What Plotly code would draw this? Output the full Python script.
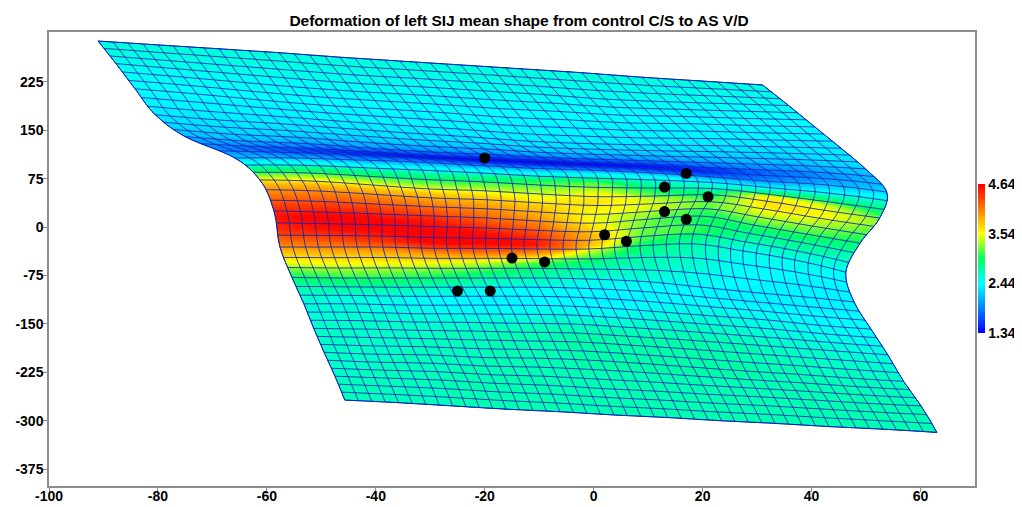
import plotly.graph_objects as go

# Grid node indices
a_nodes = [0, 4, 8, 12, 16, 20, 24, 28, 32, 36, 40, 44]
b_nodes = [0, 3, 6, 9, 12, 15, 18, 21, 24, 27, 30, 33, 36, 39, 42]

# Deformed grid node positions (each row: left to right)
x_r0 = [-91.0, -80.0, -68.8, -57.8, -46.6, -35.6, -24.4, -13.4, -2.2, 8.8, 20.0, 31.0]
y_r0 = [288, 282, 276, 270, 263, 257, 251, 245, 239, 232, 226, 220]
x_r3 = [-87.7, -76.5, -65.3, -53.9, -42.7, -31.5, -20.3, -9.1, 2.2, 13.4, 24.6, 35.8]
y_r3 = [253, 245, 237, 229, 222, 217, 211, 205, 198, 194, 191, 188]
x_r6 = [-84.2, -72.8, -61.5, -50.3, -38.9, -27.5, -16.1, -4.7, 6.6, 17.8, 29.2, 40.6]
y_r6 = [214, 206, 197, 189, 183, 177, 170, 166, 161, 160, 157, 155]
x_r9 = [-80.5, -69.2, -57.6, -46.2, -34.7, -23.3, -11.9, -0.3, 11.0, 22.4, 34.0, 45.4]
y_r9 = [174, 166, 160, 153, 146, 140, 133, 129, 127, 126, 124, 122]
x_r12 = [-75.0, -63.7, -52.3, -40.9, -29.5, -18.1, -6.8, 4.6, 15.8, 27.2, 38.6, 49.9]
y_r12 = [140, 133, 129, 122, 116, 112, 107, 104, 101, 98, 95, 90]
x_r15 = [-65.9, -55.0, -44.0, -33.2, -22.4, -11.5, -0.5, 10.3, 21.1, 32.0, 43.0, 53.8]
y_r15 = [107, 107, 104, 101, 96, 91, 88, 84, 78, 71, 65, 54]
x_r18 = [-61.3, -51.0, -40.5, -30.3, -19.8, -9.5, 0.8, 11.2, 21.5, 31.8, 42.3, 52.5]
y_r18 = [73, 71, 65, 59, 56, 51, 47, 48, 50, 40, 26, 14]
x_r21 = [-58.7, -49.0, -39.0, -29.3, -19.6, -9.8, 0.0, 9.8, 19.5, 29.4, 39.1, 48.9]
y_r21 = [25, 23, 20, 17, 14, 9, 6, 12, 17, 3, -11, -25]
x_r24 = [-57.6, -48.2, -38.7, -29.3, -19.8, -10.4, -0.9, 8.5, 18.0, 27.4, 36.9, 46.3]
y_r24 = [-31, -31, -31, -33, -33, -34, -34, -29, -26, -37, -51, -70]
x_r27 = [-55.4, -46.0, -36.7, -27.3, -18.0, -8.6, 0.9, 10.3, 19.7, 29.0, 38.4, 47.8]
y_r27 = [-78, -79, -79, -79, -79, -79, -81, -85, -93, -101, -108, -116]
x_r30 = [-53.2, -43.7, -34.3, -24.7, -15.4, -5.8, 3.5, 13.1, 22.4, 32.0, 41.3, 50.9]
y_r30 = [-119, -119, -121, -121, -121, -122, -126, -132, -138, -144, -152, -158]
x_r33 = [-51.4, -41.8, -32.3, -22.5, -13.0, -3.5, 6.1, 15.6, 25.4, 34.9, 44.5, 54.0]
y_r33 = [-157, -158, -160, -161, -163, -164, -169, -174, -180, -186, -192, -198]
x_r36 = [-49.5, -39.8, -30.3, -20.5, -10.8, -1.1, 8.5, 18.2, 27.9, 37.5, 47.2, 56.9]
y_r36 = [-194, -197, -198, -202, -203, -206, -211, -217, -223, -228, -234, -239]
x_r39 = [-47.5, -37.8, -27.9, -18.1, -8.4, 1.5, 11.2, 21.0, 30.7, 40.6, 50.3, 60.1]
y_r39 = [-231, -234, -237, -242, -245, -250, -254, -259, -263, -268, -273, -277]
x_r42 = [-45.7, -35.8, -25.9, -16.1, -6.2, 3.7, 13.6, 23.5, 33.3, 43.2, 53.1, 63.0]
y_r42 = [-268, -272, -277, -282, -286, -291, -295, -300, -304, -309, -313, -318]

grid_x = [x_r0, x_r3, x_r6, x_r9, x_r12, x_r15, x_r18, x_r21, x_r24, x_r27, x_r30, x_r33, x_r36, x_r39, x_r42]
grid_y = [y_r0, y_r3, y_r6, y_r9, y_r12, y_r15, y_r18, y_r21, y_r24, y_r27, y_r30, y_r33, y_r36, y_r39, y_r42]

# Deformation magnitude sampled along grid rows
z_b = [0, 4, 8, 10, 11.5, 12.5, 13.5, 14.5, 15.5, 16.5, 17.5, 18.5, 19.5, 20.5, 21.5,
       22.5, 23.5, 24.5, 25.5, 26.5, 27.5, 28.5, 29.5, 33, 36, 39, 42]
z_r0 = [2.58, 2.58, 2.58, 2.58, 2.58, 2.58, 2.58, 2.58, 2.58, 2.56, 2.56, 2.56]
z_r4 = [2.48, 2.48, 2.48, 2.48, 2.48, 2.48, 2.48, 2.48, 2.47, 2.47, 2.47, 2.47]
z_r8 = [2.38, 2.38, 2.38, 2.38, 2.38, 2.38, 2.38, 2.38, 2.38, 2.38, 2.38, 2.38]
z_r10 = [2.3, 2.32, 2.32, 2.3, 2.3, 2.3, 2.3, 2.3, 2.3, 2.3, 2.3, 2.35]
z_c11 = [2.2, 2.2, 2.15, 2.1, 2.05, 2.05, 2.05, 2.05, 2.1, 2.15, 2.2, 2.3]
z_c12 = [2.05, 2.0, 1.9, 1.8, 1.7, 1.65, 1.65, 1.7, 1.8, 1.95, 2.05, 2.2]
z_c13 = [1.95, 1.75, 1.55, 1.42, 1.36, 1.34, 1.34, 1.38, 1.5, 1.75, 1.95, 2.15]
z_c14 = [2.05, 1.95, 1.85, 1.75, 1.7, 1.7, 1.7, 1.7, 1.65, 1.85, 2.05, 2.2]
z_c15 = [2.4, 2.4, 2.35, 2.3, 2.3, 2.35, 2.4, 2.4, 2.25, 2.2, 2.3, 2.4]
z_c16 = [2.85, 2.9, 2.85, 2.8, 2.85, 3.0, 3.1, 2.75, 2.6, 2.7, 2.75, 2.75]
z_c17 = [3.3, 3.35, 3.3, 3.25, 3.25, 3.3, 3.45, 3.05, 2.85, 3.6, 3.45, 3.0]
z_c18 = [3.85, 3.85, 3.8, 3.75, 3.65, 3.55, 3.65, 3.4, 3.1, 3.65, 3.55, 3.3]
z_c19 = [4.1, 4.15, 4.1, 4.0, 3.9, 3.75, 3.55, 3.45, 3.2, 3.45, 3.4, 3.2]
z_c20 = [4.35, 4.4, 4.35, 4.25, 4.1, 3.9, 3.5, 3.3, 3.05, 3.2, 3.2, 3.05]
z_c21 = [4.55, 4.64, 4.6, 4.5, 4.3, 4.1, 3.65, 3.2, 3.0, 2.95, 2.95, 2.85]
z_c22 = [4.45, 4.55, 4.6, 4.64, 4.55, 4.35, 3.85, 3.2, 3.1, 2.8, 2.8, 2.7]
z_c23 = [4.15, 4.25, 4.4, 4.6, 4.64, 4.55, 3.85, 3.1, 2.85, 2.6, 2.6, 2.55]
z_c24 = [3.8, 3.85, 3.9, 4.0, 4.1, 3.95, 3.3, 2.85, 2.7, 2.5, 2.5, 2.45]
z_c25 = [3.5, 3.55, 3.55, 3.5, 3.35, 3.1, 2.85, 2.7, 2.6, 2.45, 2.42, 2.42]
z_c26 = [3.1, 3.2, 3.2, 3.1, 2.95, 2.8, 2.65, 2.6, 2.5, 2.42, 2.4, 2.4]
z_c27 = [2.85, 2.9, 2.9, 2.8, 2.65, 2.6, 2.5, 2.45, 2.42, 2.42, 2.4, 2.4]
z_c28 = [2.7, 2.7, 2.65, 2.55, 2.45, 2.45, 2.42, 2.42, 2.45, 2.42, 2.42, 2.42]
z_c29 = [2.6, 2.55, 2.5, 2.42, 2.4, 2.42, 2.42, 2.5, 2.55, 2.5, 2.45, 2.45]
z_r33 = [2.62, 2.65, 2.65, 2.68, 2.72, 2.75, 2.75, 2.75, 2.72, 2.65, 2.6, 2.55]
z_r36 = [2.62, 2.65, 2.68, 2.7, 2.72, 2.75, 2.75, 2.75, 2.75, 2.72, 2.68, 2.65]
z_r39 = [2.65, 2.68, 2.7, 2.72, 2.72, 2.72, 2.72, 2.72, 2.72, 2.72, 2.72, 2.7]
z_r42 = [2.7, 2.7, 2.7, 2.72, 2.72, 2.72, 2.72, 2.72, 2.72, 2.72, 2.72, 2.72]
grid_z = [z_r0, z_r4, z_r8, z_r10, z_c11, z_c12, z_c13, z_c14, z_c15, z_c16, z_c17, z_c18, z_c19,
          z_c20, z_c21, z_c22, z_c23, z_c24, z_c25, z_c26, z_c27, z_c28, z_c29, z_r33, z_r36, z_r39, z_r42]

# Landmarks
land_x = [-20, 17, 13, 21, 13, 17, 2, 6, -15, -9, -25, -19]
land_y = [107, 83, 62, 47, 24, 12, -12, -22, -48, -54, -99, -99]

title_text = "Deformation of left SIJ mean shape from control C/S to AS V/D"
x_ticks = [-100, -80, -60, -40, -20, 0, 20, 40, 60]
x_labels = ["-100", "-80", "-60", "-40", "-20", "0", "20", "40", "60"]
y_ticks = [225, 150, 75, 0, -75, -150, -225, -300, -375]
y_labels = ["225", "150", "75", "0", "-75", "-150", "-225", "-300", "-375"]
cbar_ticks = [1.34, 2.44, 3.54, 4.64]
cbar_labels = ["1.34", "2.44", "3.54", "4.64"]

FONT = "Liberation Sans"
LINE = "rgba(15,35,185,0.85)"
scale = [[0, "#0000ff"], [1/3, "#00ffff"], [0.5, "#00ff66"], [2/3, "#ffff00"], [1, "#ff0000"]]

def axis_style(minor):
    return dict(
        tickmode="linear", tick0=0, dtick=None, showticklabels="none", minorgridcount=minor,
        gridcolor=LINE, gridwidth=1, minorgridcolor=LINE, minorgridwidth=1,
        startlinecolor=LINE, endlinecolor=LINE, startlinewidth=1, endlinewidth=1,
        smoothing=1.0,
    )

aaxis = axis_style(3); aaxis["dtick"] = 4
baxis = axis_style(2); baxis["dtick"] = 3

fig = go.Figure()
fig.add_trace(go.Carpet(carpet="grid", a=a_nodes, b=b_nodes, x=grid_x, y=grid_y,
                        aaxis=aaxis, baxis=baxis))
fig.add_trace(go.Contourcarpet(
    carpet="grid", a=a_nodes, b=z_b, z=grid_z, autocontour=False,
    contours=dict(start=1.34, end=4.64, size=0.04, coloring="fill", showlines=False),
    line=dict(width=0), colorscale=scale, zmin=1.34, zmax=4.64,
    colorbar=dict(
        x=1.0032, xanchor="left", xpad=0, ypad=0, y=0.501, yanchor="middle",
        lenmode="pixels", len=149, thickness=7, outlinewidth=0,
        tickmode="array", tickvals=cbar_ticks, ticktext=cbar_labels, ticks="",
        tickfont=dict(family=FONT, size=14, color="black", weight="bold"),
    ),
))
fig.add_trace(go.Scatter(x=land_x, y=land_y, mode="markers",
                         marker=dict(color="black", size=11), showlegend=False))

axis_common = dict(showgrid=False, zeroline=False, showline=True, mirror=True, automargin=False,
                   linecolor="#8c8c8c", linewidth=1.5, ticks="outside", ticklen=4,
                   tickcolor="#8c8c8c",
                   tickfont=dict(family=FONT, size=14, color="black", weight="bold"))
fig.update_layout(
    width=1014, height=499, autosize=False, paper_bgcolor="white", plot_bgcolor="white",
    margin=dict(l=41, r=47, t=24, b=21, autoexpand=False), showlegend=False,
    title=dict(text=title_text, x=0.504, xanchor="center", xref="container", y=0.974, yanchor="middle",
               automargin=False, font=dict(family=FONT, size=15.5, color="black", weight="bold")),
    xaxis=dict(range=[-100, 70], tickmode="array", tickvals=x_ticks, ticktext=x_labels,
               ticklabelstandoff=-8, **axis_common),
    yaxis=dict(range=[-401, 302], tickmode="array", tickvals=y_ticks, ticktext=y_labels,
               ticklabelstandoff=-3, **axis_common),
)
fig.write_html("out.html")
